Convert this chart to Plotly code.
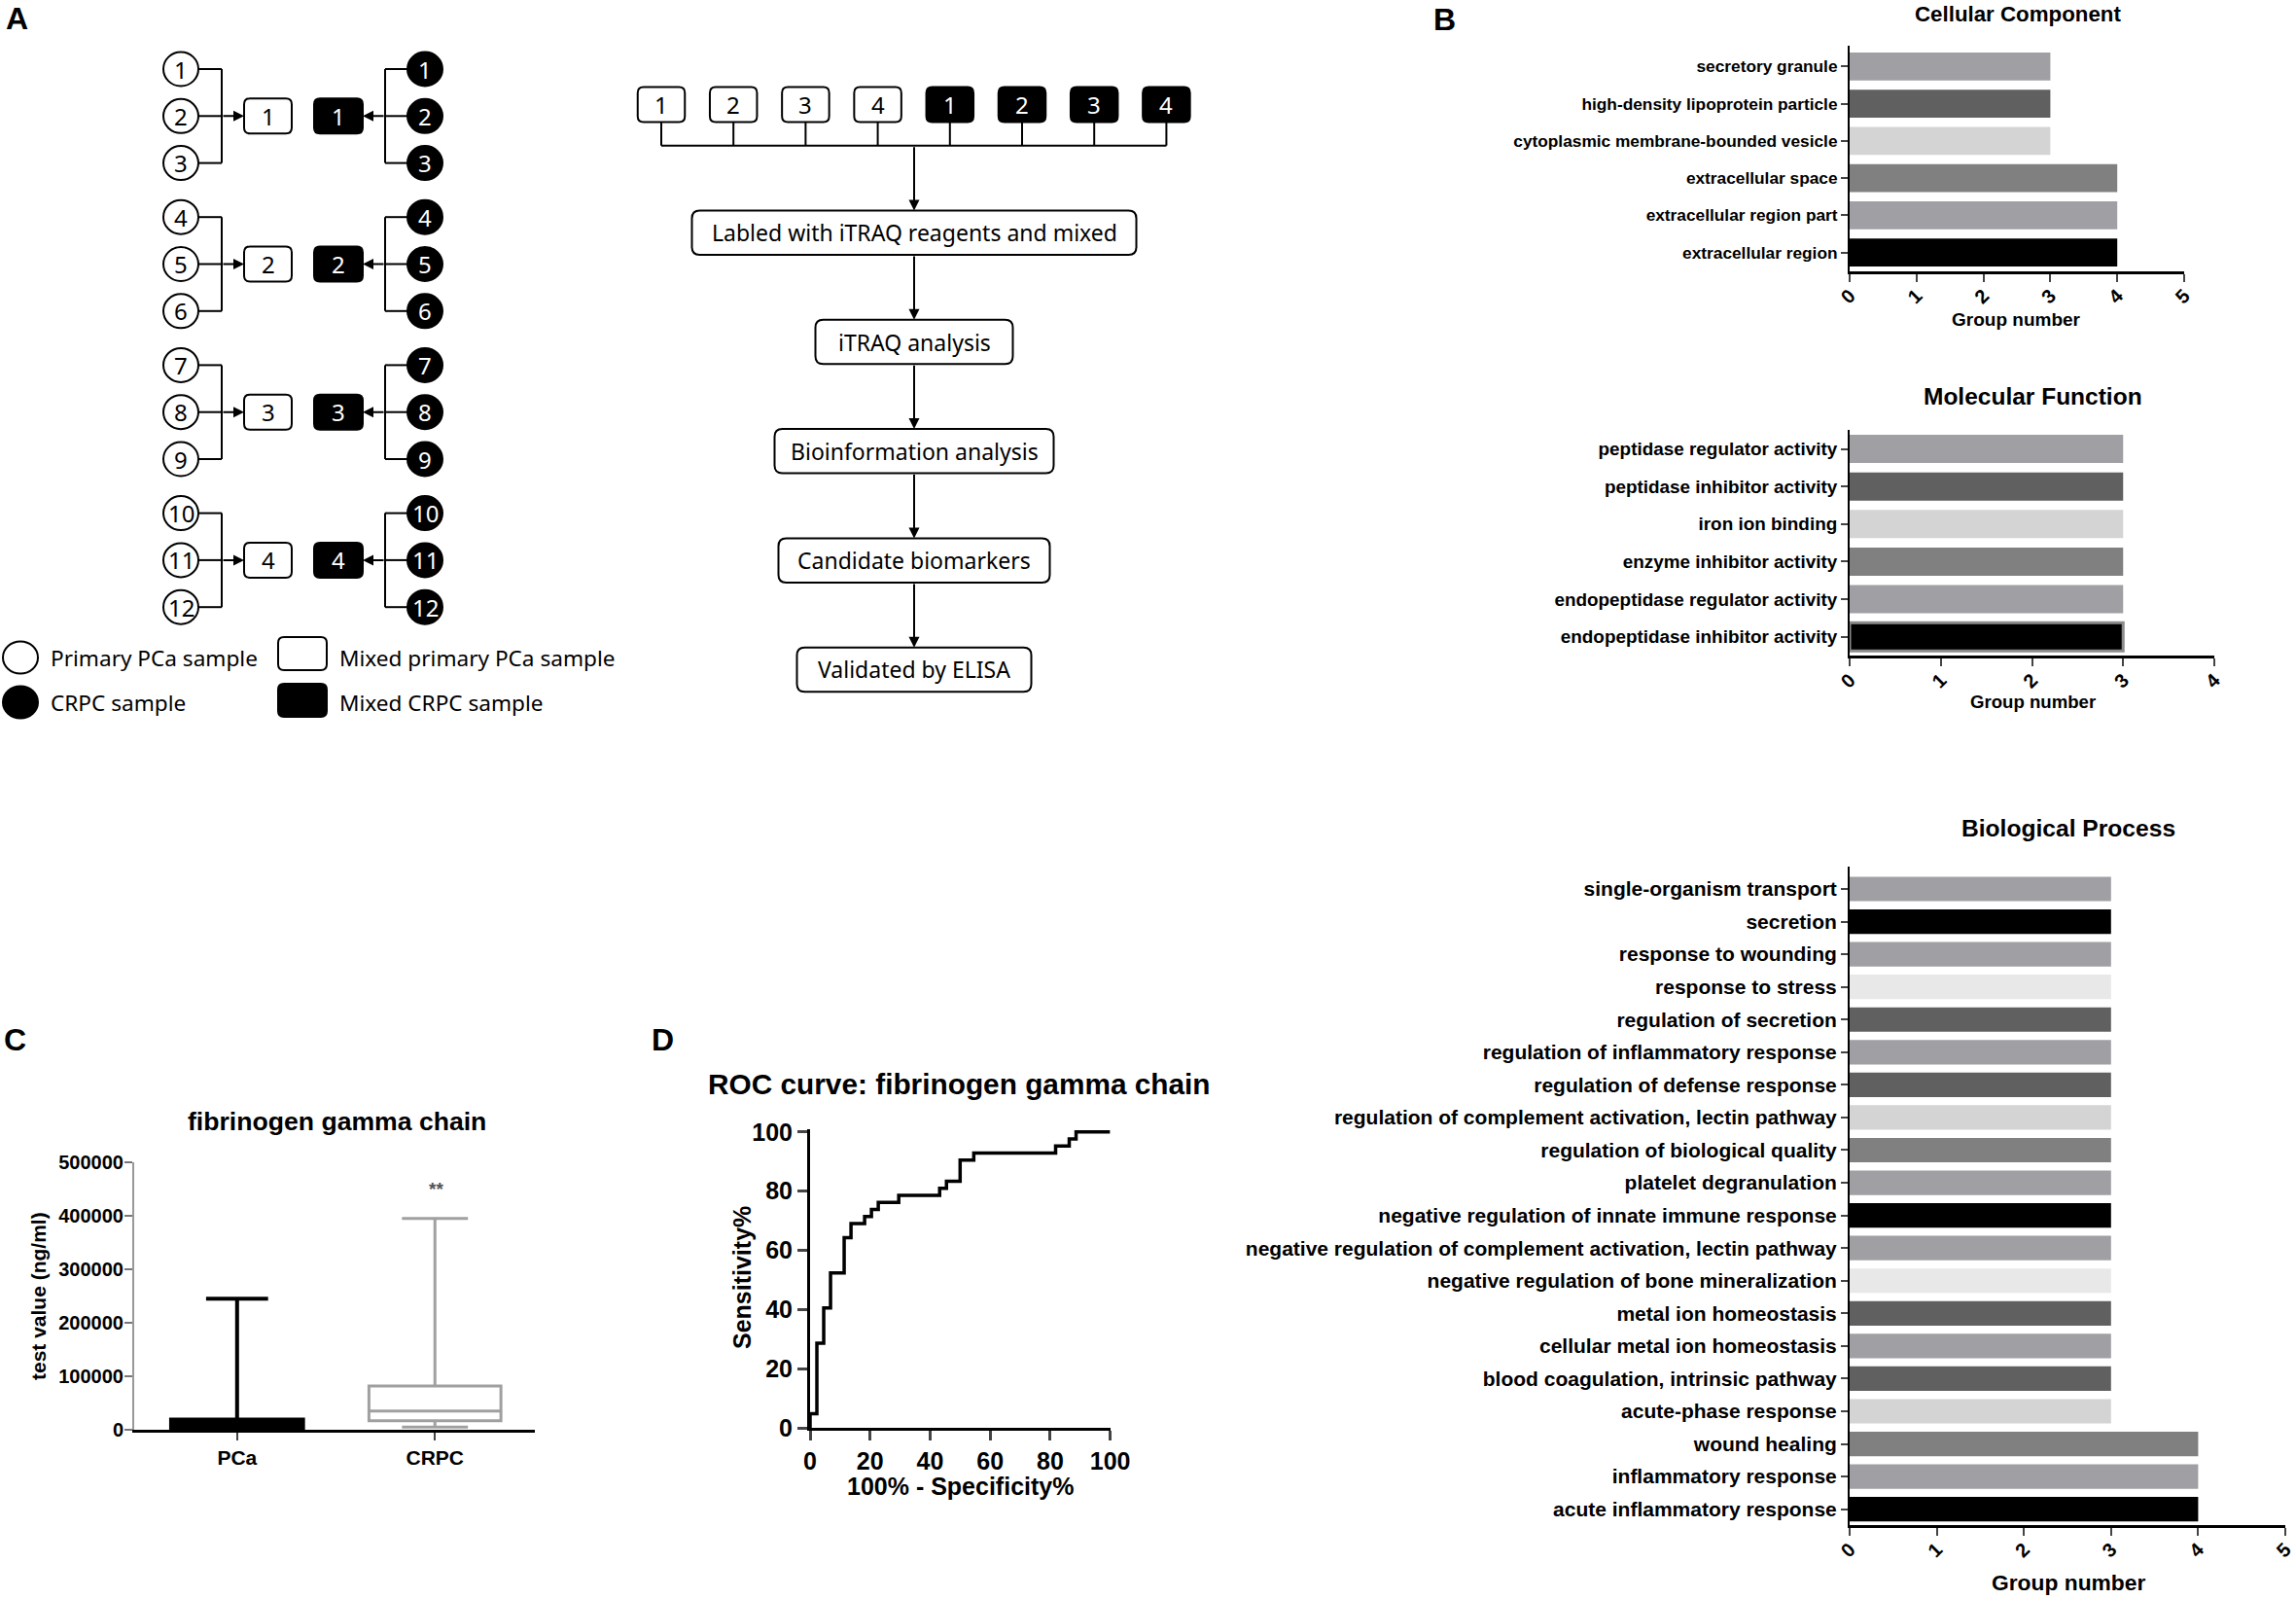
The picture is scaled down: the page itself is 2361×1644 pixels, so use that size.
import plotly.graph_objects as go

W, H = 2361, 1644

# ---------------- data ----------------
cc_terms = ["secretory granule", "high-density lipoprotein particle",
            "cytoplasmic membrane-bounded vesicle", "extracellular space",
            "extracellular region part", "extracellular region"]
cc_counts = [3, 3, 3, 4, 4, 4]

mf_terms = ["peptidase regulator activity", "peptidase inhibitor activity",
            "iron ion binding", "enzyme inhibitor activity",
            "endopeptidase regulator activity", "endopeptidase inhibitor activity"]
mf_counts = [3, 3, 3, 3, 3, 3]

bp_terms = ["single-organism transport", "secretion", "response to wounding",
            "response to stress", "regulation of secretion",
            "regulation of inflammatory response", "regulation of defense response",
            "regulation of complement activation, lectin pathway",
            "regulation of biological quality", "platelet degranulation",
            "negative regulation of innate immune response",
            "negative regulation of complement activation, lectin pathway",
            "negative regulation of bone mineralization", "metal ion homeostasis",
            "cellular metal ion homeostasis", "blood coagulation, intrinsic pathway",
            "acute-phase response", "wound healing", "inflammatory response",
            "acute inflammatory response"]
bp_counts = [3, 3, 3, 3, 3, 3, 3, 3, 3, 3, 3, 3, 3, 3, 3, 3, 3, 4, 4, 4]

box_groups = ["PCa", "CRPC"]
box_min = [0, 5000]
box_q1 = [2000, 17000]
box_median = [9000, 35000]
box_q3 = [19000, 82000]
box_max = [245000, 395000]

roc_fpr = [0, 0, 2.27, 4.55, 6.82, 11.36, 13.64, 18.18, 20.45, 22.73, 29.55,
           43.18, 45.45, 50.0, 54.55, 81.82, 86.36, 88.64, 100]
roc_sens = [0, 4.76, 28.57, 40.48, 52.38, 64.29, 69.05, 71.43, 73.81, 76.19,
            78.57, 80.95, 83.33, 90.48, 92.86, 95.24, 97.62, 100, 100]

sample_ids = [str(i) for i in range(1, 13)]
pool_ids = ["1", "2", "3", "4"]
flow_steps = ["Labled with iTRAQ reagents and mixed", "iTRAQ analysis",
              "Bioinformation analysis", "Candidate biomarkers", "Validated by ELISA"]
legend_labels = ["Primary PCa sample", "Mixed primary PCa sample",
                 "CRPC sample", "Mixed CRPC sample"]

# ---------------- styles ----------------
G1, G2, G3, G4, G5, K = "#a0a0a4", "#606060", "#d4d4d4", "#808080", "#e8e8e8", "#000000"
cc_colors = [G1, G2, G3, G4, G1, K]
mf_colors = [G1, G2, G3, G4, G1, K]
bp_colors = [G1, K, G1, G5, G2, G1, G2, G3, G4, G1, K, G1, G5, G2, G1, G2, G3, G4, G1, K]

ARIAL = "Liberation Sans, Arial, sans-serif"
DIAG = "Noto Sans, sans-serif"


def fnt(size, family=ARIAL, bold=True, color="black"):
    d = dict(family=family, size=size, color=color)
    if bold:
        d["weight"] = "bold"
    return d


def px_x(p):
    return p / W


def px_y(p):
    return 1 - p / H


fig = go.Figure()

# ---------------- GO bar charts ----------------
def add_go(terms, counts, colors, n, lw, lc):
    fig.add_trace(go.Bar(
        y=terms, x=counts, orientation="h", width=0.75,
        marker=dict(color=colors, line=dict(color=lc, width=lw)),
        xaxis="x" + n, yaxis="y" + n, showlegend=False, hoverinfo="x+y"))


add_go(cc_terms, cc_counts, cc_colors, "", 0, "#888")
add_go(mf_terms, mf_counts, mf_colors, "2", [0, 0, 0, 0, 0, 3],
       ["#888", "#888", "#888", "#888", "#888", "#8c8c8c"])
add_go(bp_terms, bp_counts, bp_colors, "3", 0, "#888")


def bar_axes(xd, yd, xmax, yrange, lab_size):
    xa = dict(domain=xd, range=[0, xmax], dtick=1, tickangle=-45, ticks="outside",
              ticklen=8, tickwidth=2, showline=True, linewidth=3, linecolor="black",
              showgrid=False, zeroline=False, tickfont=fnt(20), fixedrange=True,
              automargin=False, ticklabelstandoff=-5)
    ya = dict(domain=yd, type="category", range=yrange, ticks="outside", ticklen=7,
              tickwidth=2, showline=True, linewidth=2, linecolor="black",
              showgrid=False, zeroline=False, tickfont=fnt(lab_size),
              fixedrange=True, automargin=False)
    return xa, ya


xa1, ya1 = bar_axes([px_x(1902), px_x(2246)], [px_y(278.6), px_y(46.6)], 5,
                    [5.494, -0.567], 17.3)
xa2, ya2 = bar_axes([px_x(1902), px_x(2277)], [px_y(673.7), px_y(441.6)], 4,
                    [5.492, -0.518], 18.9)
xa3, ya3 = bar_axes([px_x(1902), px_x(2350)], [px_y(1567.6), px_y(891.4)], 5,
                    [19.474, -0.673], 21)
ya1["anchor"] = "x"; xa1["anchor"] = "y"
ya2["anchor"] = "x2"; xa2["anchor"] = "y2"
ya3["anchor"] = "x3"; xa3["anchor"] = "y3"

# ---------------- box plot (C) ----------------
box_styles = [dict(fill="black", line="black", lw=4, ww=0.47),
              dict(fill="white", line="#a0a0a0", lw=3, ww=0.5)]
for i, g in enumerate(box_groups):
    s = box_styles[i]
    fig.add_trace(go.Box(
        x=[g], q1=[box_q1[i]], median=[box_median[i]], q3=[box_q3[i]],
        lowerfence=[box_min[i]], upperfence=[box_max[i]], width=0.667,
        whiskerwidth=s["ww"], fillcolor=s["fill"], line=dict(color=s["line"], width=s["lw"]),
        boxpoints=False, xaxis="x4", yaxis="y4", showlegend=False))

xa4 = dict(domain=[px_x(138), px_x(550)], anchor="y4", type="category",
           categoryorder="array", categoryarray=box_groups, range=[-0.52, 1.505],
           ticks="outside", ticklen=8, tickwidth=2, showline=True, linewidth=3,
           linecolor="black", showgrid=False, zeroline=False, tickfont=fnt(21),
           automargin=False)
ya4 = dict(domain=[px_y(1470), px_y(1195)], anchor="x4", range=[0, 500000],
           dtick=100000, tickformat="d", ticks="outside", ticklen=8, tickwidth=2,
           tickcolor="#777", showline=True, linewidth=2, linecolor="#999",
           showgrid=False, zeroline=False, tickfont=fnt(20), automargin=False,
           ticklabelstandoff=-3)

# ---------------- ROC (D) ----------------
fig.add_trace(go.Scatter(x=roc_fpr, y=roc_sens, mode="lines",
                         line=dict(shape="hv", color="black", width=3.5),
                         xaxis="x5", yaxis="y5", showlegend=False))
xa5 = dict(domain=[px_x(833), px_x(1141.6)], anchor="y5", range=[0, 100], dtick=20,
           ticks="outside", ticklen=10, tickwidth=3, showline=True, linewidth=3,
           linecolor="black", showgrid=False, zeroline=False, tickfont=fnt(25),
           automargin=False)
ya5 = dict(domain=[px_y(1468), px_y(1161.4)], anchor="x5", range=[0, 100.8], dtick=20,
           ticks="outside", ticklen=10, tickwidth=3, showline=True, linewidth=3,
           linecolor="black", showgrid=False, zeroline=False, tickfont=fnt(25),
           automargin=False)

# ---------------- overlay pixel axis for diagram ----------------
fig.add_trace(go.Scatter(x=[], y=[], xaxis="x6", yaxis="y6", showlegend=False))
xa6 = dict(domain=[0, 1], range=[0, W], visible=False, anchor="y6", fixedrange=True)
ya6 = dict(domain=[0, 1], range=[H, 0], visible=False, anchor="x6", fixedrange=True)

shapes = []
annotations = []
REF = dict(xref="x6", yref="y6")


def rrect(x0, y0, x1, y1, r=6):
    return (f"M{x0+r},{y0} L{x1-r},{y0} Q{x1},{y0} {x1},{y0+r} L{x1},{y1-r} "
            f"Q{x1},{y1} {x1-r},{y1} L{x0+r},{y1} Q{x0},{y1} {x0},{y1-r} "
            f"L{x0},{y0+r} Q{x0},{y0} {x0+r},{y0} Z")


def box(x0, y0, x1, y1, black, r=6):
    shapes.append(dict(type="path", path=rrect(x0, y0, x1, y1, r), **REF,
                       line=dict(color="black", width=2),
                       fillcolor="black" if black else "white", layer="above"))


def circle(cx, cy, black, rx=18, ry=17.5):
    shapes.append(dict(type="circle", x0=cx - rx, x1=cx + rx, y0=cy - ry, y1=cy + ry,
                       **REF, line=dict(color="black", width=2),
                       fillcolor="black" if black else "white", layer="above"))


def line(x0, y0, x1, y1, w=2):
    shapes.append(dict(type="line", x0=x0, y0=y0, x1=x1, y1=y1, **REF,
                       line=dict(color="black", width=w), layer="above"))


def arrow(xt, yt, xh, yh):
    annotations.append(dict(x=xh, y=yh, ax=xt, ay=yt, axref="x6", ayref="y6", **REF,
                            text="", showarrow=True, arrowhead=2, arrowsize=1.1,
                            arrowwidth=2, arrowcolor="black", standoff=0))


def text(x, y, s, font, **kw):
    annotations.append(dict(x=x, y=y, text=s, showarrow=False, font=font, **REF, **kw))


# --- left part of A: pooling ---
LCX, RCX, LBR, RBR = 186, 437, 228, 396
for g in range(4):
    ys = [71 + g * 152.2 + k * 48.3 for k in range(3)]
    ym = ys[1]
    for k in range(3):
        sid = sample_ids[g * 3 + k]
        line(LCX + 18, ys[k], LBR, ys[k])
        line(RBR, ys[k], RCX - 18, ys[k])
        circle(LCX, ys[k], False)
        circle(RCX, ys[k], True)
        text(LCX, ys[k], sid, fnt(24, DIAG, False))
        text(RCX, ys[k], sid, fnt(24, DIAG, False, "white"))
    line(LBR, ys[0], LBR, ys[2])
    line(RBR, ys[0], RBR, ys[2])
    arrow(LBR, ym, 251, ym)
    arrow(RBR, ym, 373, ym)
    box(251, ym - 18, 300, ym + 18, False)
    box(323, ym - 18, 373, ym + 18, True)
    text(275.5, ym, pool_ids[g], fnt(24, DIAG, False))
    text(348, ym, pool_ids[g], fnt(24, DIAG, False, "white"))

# legend of A
circle(21, 676, False, 18, 16.5)
circle(21, 722, True, 18, 16.5)
box(286, 655, 336, 689, False)
box(286, 703, 336, 737, True)
text(50, 676, legend_labels[0], fnt(22.6, DIAG, False), xanchor="left")
text(347, 676, legend_labels[1], fnt(22.6, DIAG, False), xanchor="left")
text(50, 722, legend_labels[2], fnt(22.6, DIAG, False), xanchor="left")
text(347, 722, legend_labels[3], fnt(22.6, DIAG, False), xanchor="left")

# --- flow chart ---
TOPX0, TOPDX = 680, 74.2
for i in range(8):
    cx = TOPX0 + i * TOPDX
    blk = i >= 4
    box(cx - 24.25, 89.6, cx + 24.25, 125.6, blk)
    text(cx, 107.6, pool_ids[i % 4], fnt(24, DIAG, False, "white" if blk else "black"))
    line(cx, 125.6, cx, 149.7)
line(TOPX0, 149.7, TOPX0 + 7 * TOPDX, 149.7)
FCX = 940
STEP_W = [457, 203, 287, 279, 241]
STEP_TOP, STEP_DY, STEP_H = 216.5, 112.3, 45.5
arrow(FCX, 149.7, FCX, STEP_TOP)
for i, s in enumerate(flow_steps):
    top = STEP_TOP + i * STEP_DY
    box(FCX - STEP_W[i] / 2, top, FCX + STEP_W[i] / 2, top + STEP_H, False, 8)
    text(FCX, top + STEP_H / 2, s, fnt(23, DIAG, False))
    if i < len(flow_steps) - 1:
        arrow(FCX, top + STEP_H, FCX, top + STEP_DY)

# --- panel letters ---
for lbl, x, y in [("A", 17, 19), ("B", 1485, 20), ("C", 15, 1069), ("D", 681, 1069)]:
    text(x, y, lbl, fnt(32))

# --- GO titles ---
text(2075, 14, "Cellular Component", fnt(22.3))
text(2090, 407, "Molecular Function", fnt(24.5))
text(2127, 851, "Biological Process", fnt(24.6))
text(2073, 328, "Group number", fnt(19))
text(2090, 721, "Group number", fnt(18.6))
text(2127, 1627, "Group number", fnt(22.8))

# --- C titles ---
text(346, 1153, "fibrinogen gamma chain", fnt(26.6))
text(39, 1333, "test value (ng/ml)", fnt(21), textangle=-90)
text(448, 1222, "**", fnt(19, color="#555"))

# --- D titles ---
text(986, 1114, "ROC curve: fibrinogen gamma chain", fnt(29.8))
text(763, 1314, "Sensitivity%", fnt(25), textangle=-90)
text(987, 1528, "100% - Specificity%", fnt(25))

fig.update_layout(
    width=W, height=H, margin=dict(l=0, r=0, t=0, b=0, pad=0, autoexpand=False),
    paper_bgcolor="white", plot_bgcolor="rgba(0,0,0,0)",
    xaxis=xa1, yaxis=ya1, xaxis2=xa2, yaxis2=ya2, xaxis3=xa3, yaxis3=ya3,
    xaxis4=xa4, yaxis4=ya4, xaxis5=xa5, yaxis5=ya5, xaxis6=xa6, yaxis6=ya6,
    shapes=shapes, annotations=annotations, showlegend=False, bargap=0.25,
)

fig.write_html("out.html", config=dict(displayModeBar=False),
               post_script="document.body.style.margin='0px';"
                           "document.body.style.overflow='hidden';")
